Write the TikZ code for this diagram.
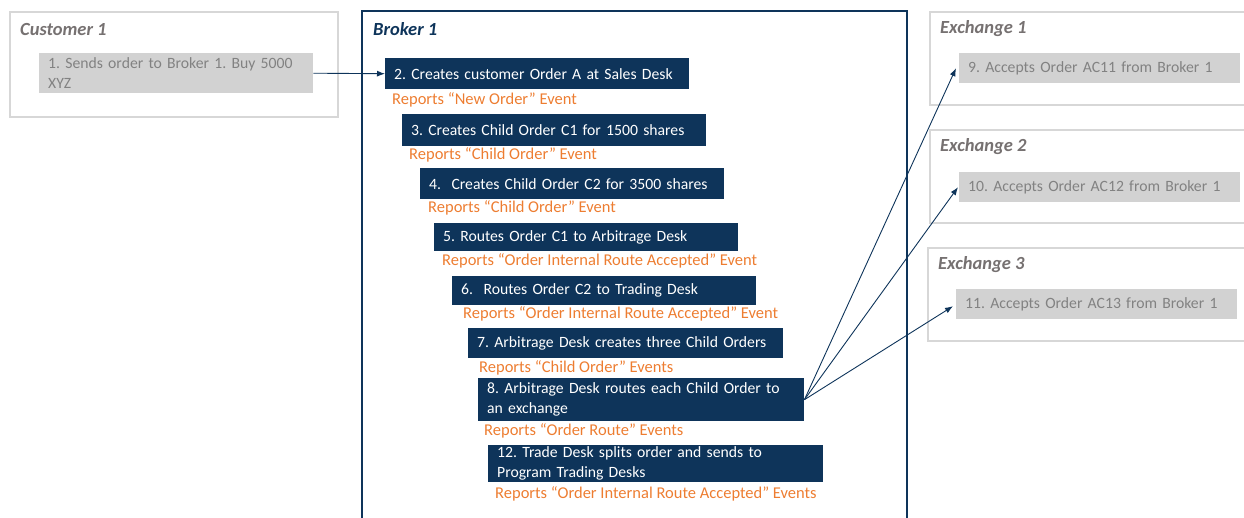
\documentclass[tikz,border=0pt]{standalone}
\usepackage{fontspec}
\setmainfont{Carlito}
\usetikzlibrary{arrows.meta}
\definecolor{navy}{RGB}{14,52,90}
\definecolor{evorange}{RGB}{237,125,49}
\definecolor{boxgray}{RGB}{210,210,210}
\definecolor{txtgray}{RGB}{130,130,130}
\definecolor{titlegray}{RGB}{118,113,113}
\definecolor{linegray}{RGB}{215,215,215}
\tikzset{
  navybox/.style={fill=navy, text=white, anchor=north west, inner xsep=9pt, inner ysep=1pt,
    align=left, font=\fontsize{15.7}{20}\selectfont\frenchspacing},
  graybox/.style={fill=boxgray, text=txtgray, anchor=north west, inner xsep=9pt, inner ysep=1pt,
    align=left, font=\fontsize{15.7}{20}\selectfont\frenchspacing},
  report/.style={text=evorange, anchor=west, inner sep=0pt,
    font=\fontsize{16.5}{20}\selectfont\frenchspacing},
  party/.style={draw=linegray, line width=2pt, anchor=north west, inner sep=0pt},
  title/.style={text=titlegray, anchor=west, inner sep=0pt,
    font=\fontsize{18.5}{20}\selectfont\bfseries\itshape},
  flow/.style={-{Latex[length=8pt,width=6pt]}, navy, line width=0.9pt},
}
\begin{document}
\begin{tikzpicture}[x=1pt, y=-1pt]
  \useasboundingbox (0,0) rectangle (1244,517);
  % define corners of the broker frame
  \coordinate (BL) at (362,522);
  \coordinate (BT) at (362,11);
  \coordinate (BR) at (907,522);
  % parties
  \node[party, minimum width=328pt, minimum height=105pt] (cust) at (9,11) {};
  \draw[navy, line width=2pt] (BL) |- (BR |- BT) -- (BR);
  \node[party, minimum width=315pt, minimum height=93pt] (ex1) at (929,11) {};
  \node[party, minimum width=315pt, minimum height=93pt] (ex2) at (929,129) {};
  \node[party, minimum width=317pt, minimum height=93pt] (ex3) at (927,247) {};
  % titles
  \node[title] (tcust) at (20,29) {Customer 1};
  \node[title, text=navy] (tbroker) at (373,29) {Broker 1};
  \node[title] (tex1) at (940,29) {Exchange 1};
  \node[title] (tex2) at (940,147) {Exchange 2};
  \node[title] (tex3) at (938,265) {Exchange 3};
  % customer and exchanges
  \node[graybox, minimum width=274pt, minimum height=40pt, text width=256pt] (c1) at (39,53)
    {1. Sends order to Broker 1. Buy 5000\\XYZ};
  \node[graybox, minimum width=281pt, minimum height=30pt, text width=263pt] (e1) at (959,53)
    {9. Accepts Order AC11 from Broker 1};
  \node[graybox, minimum width=281pt, minimum height=30pt, text width=263pt] (e2) at (959,172)
    {10. Accepts Order AC12 from Broker 1};
  \node[graybox, minimum width=281pt, minimum height=30pt, text width=263pt] (e3) at (956,289)
    {11. Accepts Order AC13 from Broker 1};
  % broker steps
  \node[navybox, minimum width=304pt, minimum height=31pt, text width=286pt] (b2) at (385,58)
    {2. Creates customer Order A at Sales Desk};
  \node[report] (r2) at (392,100) {Reports “New Order” Event};
  \node[navybox, minimum width=304pt, minimum height=32pt, text width=286pt] (b3) at (402,114)
    {3. Creates Child Order C1 for 1500 shares};
  \node[report] (r3) at (409,155) {Reports “Child Order” Event};
  \node[navybox, minimum width=304pt, minimum height=31pt, text width=286pt] (b4) at (420,168)
    {4.~~Creates Child Order C2 for 3500 shares};
  \node[report] (r4) at (428,208) {Reports “Child Order” Event};
  \node[navybox, minimum width=304pt, minimum height=28pt, text width=286pt] (b5) at (434,223)
    {5. Routes Order C1 to Arbitrage Desk};
  \node[report] (r5) at (442,261) {Reports “Order Internal Route Accepted” Event};
  \node[navybox, minimum width=304pt, minimum height=29pt, text width=286pt] (b6) at (452,276)
    {6.~~Routes Order C2 to Trading Desk};
  \node[report] (r6) at (463,314) {Reports “Order Internal Route Accepted” Event};
  \node[navybox, minimum width=315pt, minimum height=30pt, text width=297pt] (b7) at (468,328)
    {7. Arbitrage Desk creates three Child Orders};
  \node[report] (r7) at (479,368) {Reports “Child Order” Events};
  \node[navybox, minimum width=326pt, minimum height=43pt, text width=308pt] (b8) at (478,378)
    {8. Arbitrage Desk routes each Child Order to\\an exchange};
  \node[report] (r8) at (484,431) {Reports “Order Route” Events};
  \node[navybox, minimum width=335pt, minimum height=37pt, text width=317pt] (b12) at (488,445)
    {12. Trade Desk splits order and sends to\\Program Trading Desks};
  \node[report] (r12) at (495,494) {Reports “Order Internal Route Accepted” Events};
  % order flow
  \draw[flow] (c1.east) -- (b2.west);
  \draw[flow] (b8.east) -- ([xshift=-3pt]e1.west);
  \draw[flow] (b8.east) -- ([xshift=-1pt]e2.west);
  \draw[flow] (b8.east) -- ([xshift=-3pt,yshift=-2pt]e3.west);
\end{tikzpicture}
\end{document}
